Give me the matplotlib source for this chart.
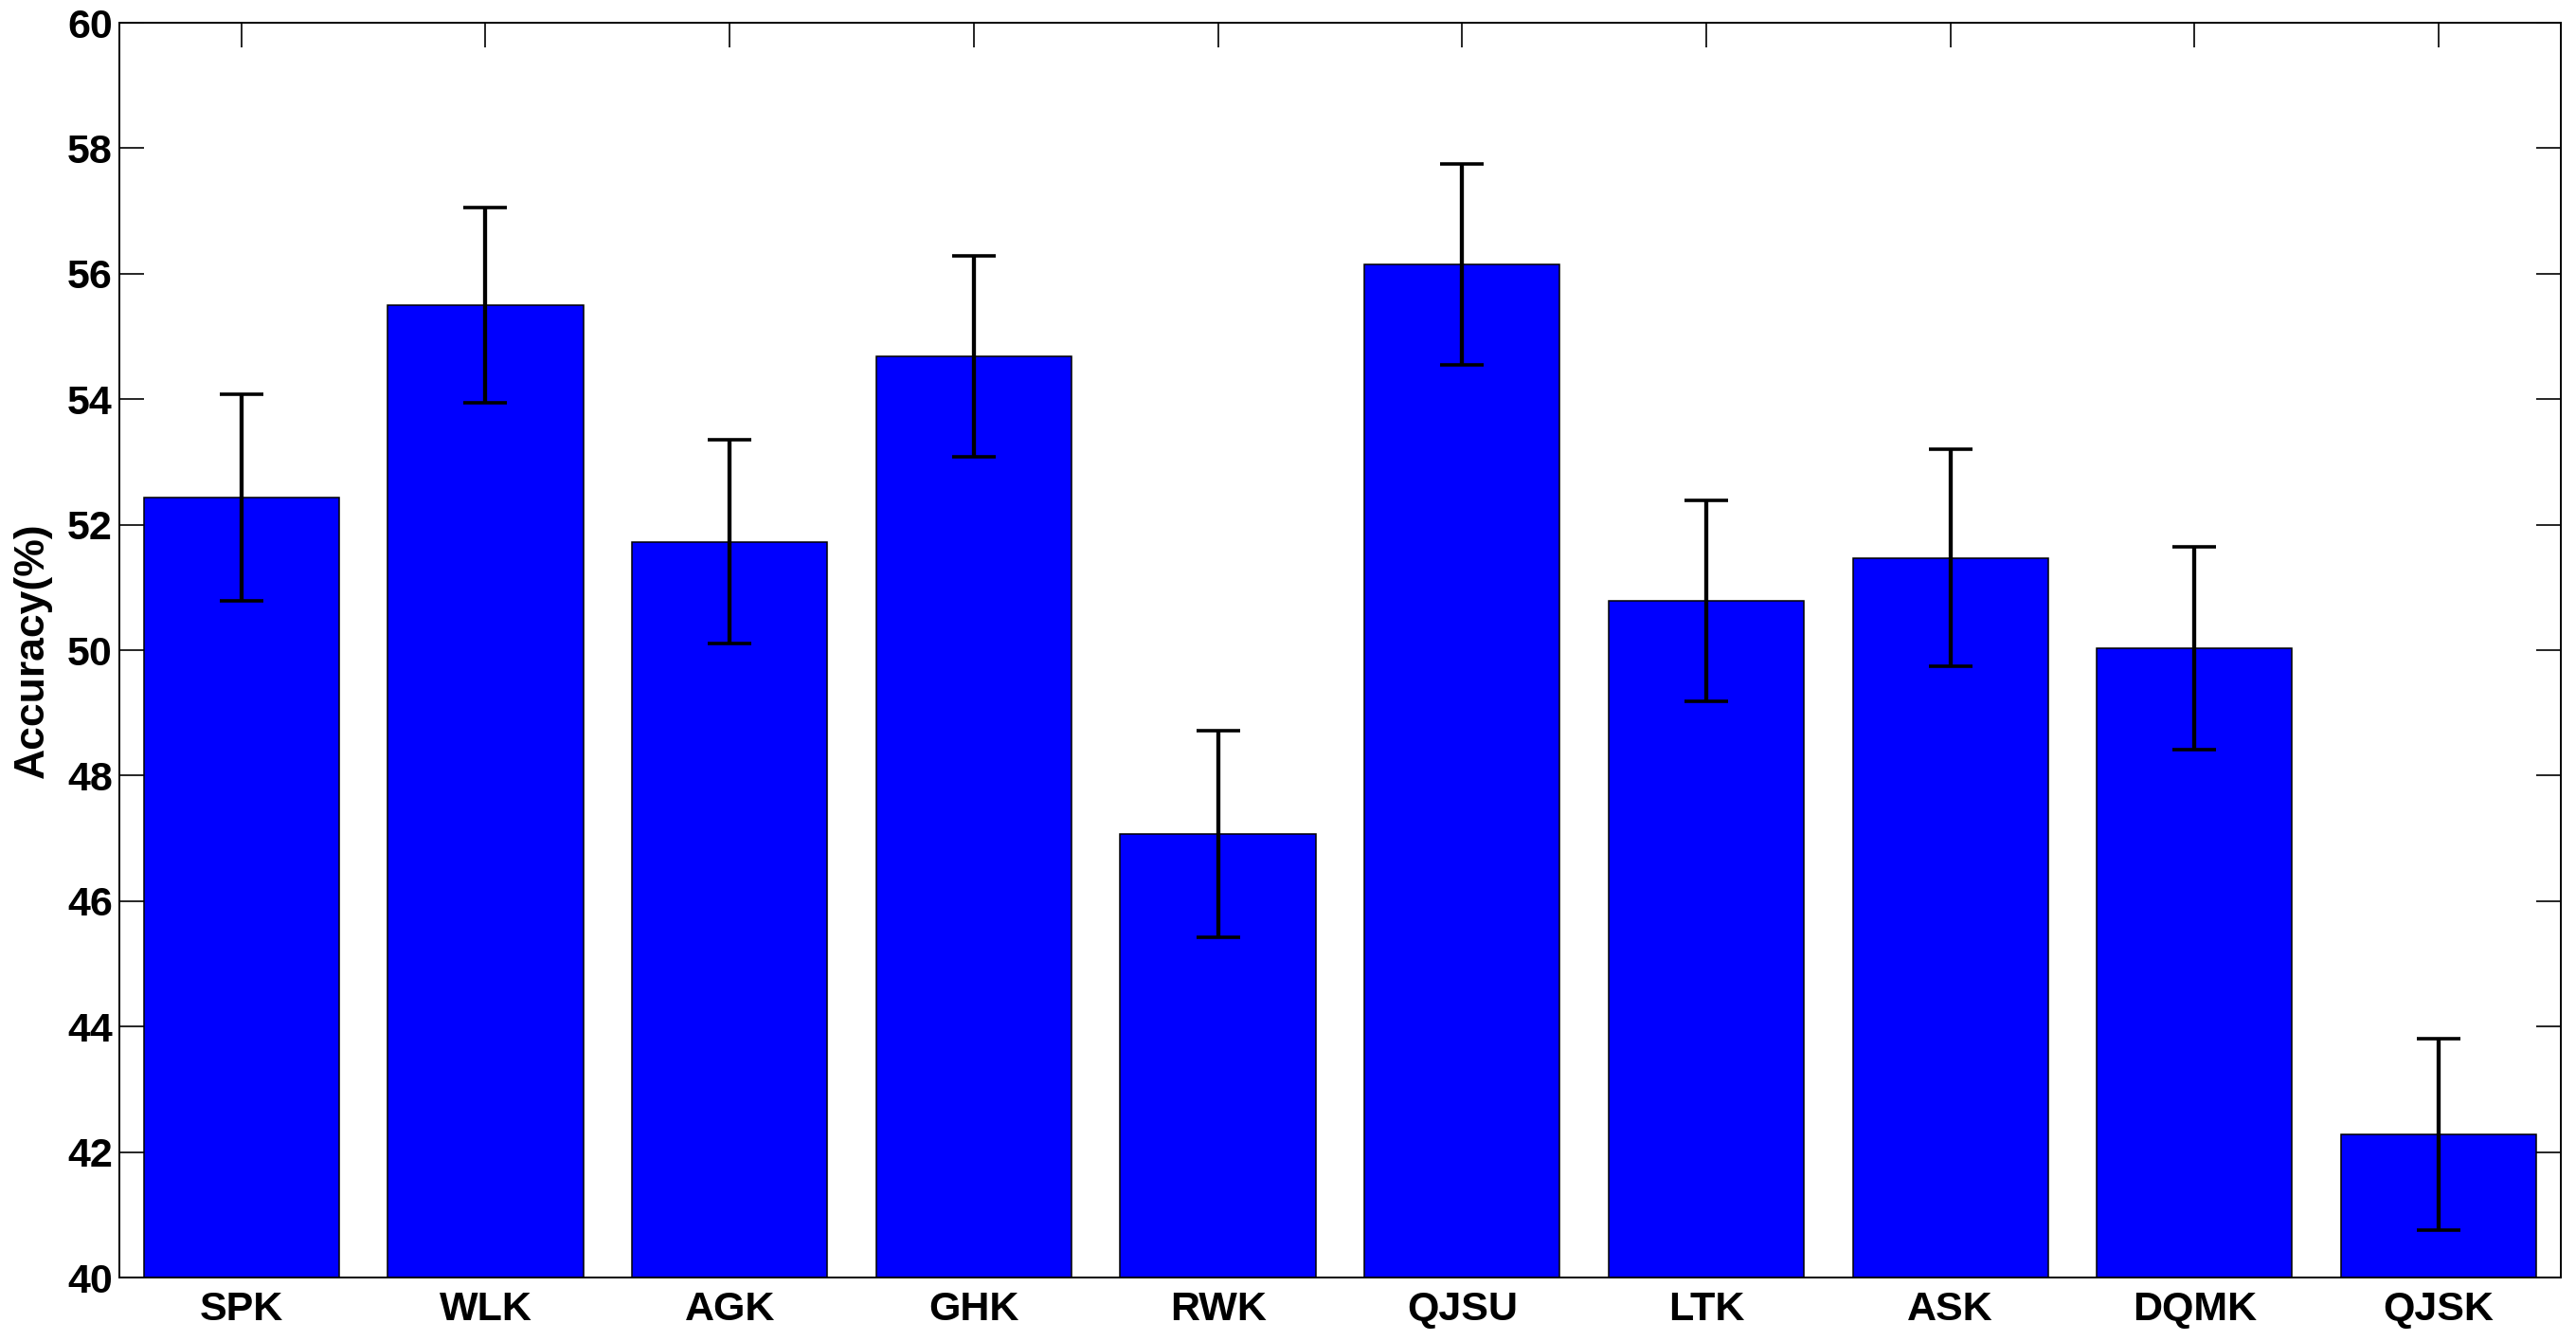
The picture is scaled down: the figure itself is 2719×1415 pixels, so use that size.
import matplotlib
matplotlib.use("Agg")
import matplotlib.pyplot as plt
import numpy as np

# kernel names and accuracies (%)
kernels = ['SPK', 'WLK', 'AGK', 'GHK', 'RWK', 'QJSU', 'LTK', 'ASK', 'DQMK', 'QJSK']
accuracy = [52.43, 55.50, 51.73, 54.69, 47.07, 56.15, 50.79, 51.47, 50.03, 42.28]
std_err = [1.65, 1.55, 1.62, 1.60, 1.65, 1.60, 1.60, 1.73, 1.62, 1.53]
yticks = list(range(40, 61, 2))

plt.rcParams['font.family'] = ['Liberation Sans', 'DejaVu Sans']
plt.rcParams['font.weight'] = 'bold'

fig = plt.figure(figsize=(27.19, 14.15), dpi=100)
ax = fig.add_axes([0.0463, 0.0473, 0.9478, 0.9357])

x = np.arange(1, len(kernels) + 1)
ax.bar(x, accuracy, width=0.8, color='#0000ff', edgecolor='black', linewidth=1.1, zorder=2)
ax.errorbar(x, accuracy, yerr=std_err, fmt='none', ecolor='black',
            elinewidth=3.1, capsize=16.4, capthick=2.6, zorder=3)

ax.set_xlim(0.5, len(kernels) + 0.5)
ax.set_ylim(40, 60)
ax.set_xticks(x)
ax.set_xticklabels(kernels)
ax.set_yticks(yticks)
ax.tick_params(axis='both', direction='in', length=18.5, width=1.2,
               top=True, right=True, labelsize=31)
ax.tick_params(axis='x', pad=10)
ax.tick_params(axis='y', pad=5)
for lab in ax.get_xticklabels() + ax.get_yticklabels():
    lab.set_fontweight('bold')
for sp in ax.spines.values():
    sp.set_linewidth(1.4)

ax.set_ylabel('Accuracy(%)', fontsize=32, fontweight='bold', labelpad=12)

fig.savefig('out.png', dpi=100)
